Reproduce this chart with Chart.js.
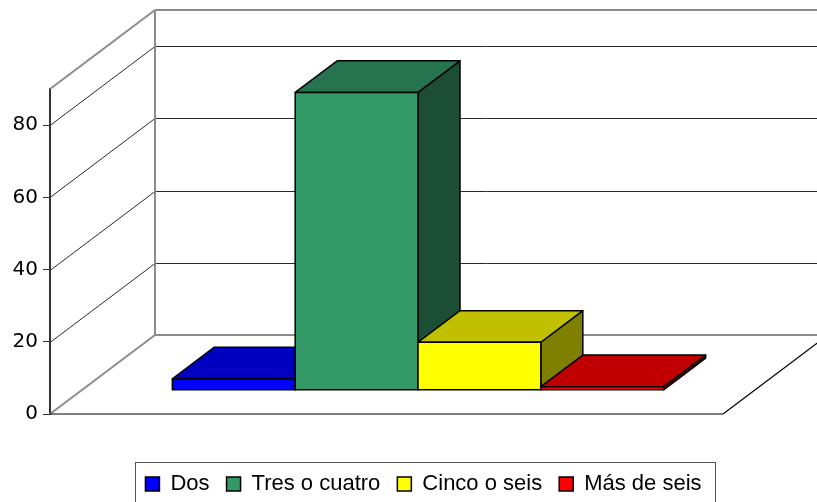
<!DOCTYPE html>
<html>
<head>
<meta charset="utf-8">
<script src="https://cdn.jsdelivr.net/npm/chart.js@4.4.1/dist/chart.umd.min.js"></script>
<style>
  body { margin: 0; background: #fff; }
  #wrap { width: 817px; height: 502px; }
</style>
</head>
<body>
<div id="wrap"><canvas id="chart"></canvas></div>
<script>
// Data: one group of bars, one series per answer
const seriesNames = ['Dos', 'Tres o cuatro', 'Cinco o seis', 'Más de seis'];
const seriesValues = [3.2, 82.5, 13.3, 1.0];
const yTicks = [0, 20, 40, 60, 80];
const yMax = 90;

// Face colours: front / top / side
const frontColors = ['#0000ff', '#339966', '#ffff00', '#ff0000'];
const topColors = ['#0000c0', '#267350', '#c0c000', '#c00000'];
const sideColors = ['#000080', '#1c4d35', '#808000', '#800000'];

// 3D box depth (pixels) and where the bars sit inside it
const DEPTH_X = 105;
const DEPTH_Y = -79;
const BAR_FRONT = 0.3;
const BAR_BACK = 0.7;

// legend sits right of centre in the original
const LEGEND_SHIFT_X = 62;
const LEGEND_SHIFT_Y = 3;

function line(ctx, x1, y1, x2, y2) {
    ctx.beginPath();
    ctx.moveTo(x1, y1);
    ctx.lineTo(x2, y2);
    ctx.stroke();
}

function poly(ctx, pts, fill) {
    ctx.beginPath();
    ctx.moveTo(pts[0][0], pts[0][1]);
    for (let i = 1; i < pts.length; i++) ctx.lineTo(pts[i][0], pts[i][1]);
    ctx.closePath();
    ctx.fillStyle = fill;
    ctx.fill();
    ctx.stroke();
}

// Draws walls, grid and the bars as boxes, replacing the flat bars
const box3d = {
    id: 'box3d',
    afterLayout(chart) {
        const lg = chart.legend;
        lg.left += LEGEND_SHIFT_X;
        lg.right += LEGEND_SHIFT_X;
        lg.top += LEGEND_SHIFT_Y;
        lg.bottom += LEGEND_SHIFT_Y;
    },
    beforeDatasetsDraw(chart) {
        const ctx = chart.ctx;
        const { left, right, top, bottom } = chart.chartArea;
        const yScale = chart.scales.y;
        ctx.save();

        // grid on left wall and back wall
        ctx.lineWidth = 1;
        ctx.strokeStyle = '#2a2a2a';
        yTicks.forEach(v => {
            if (v === 0) return;
            const py = Math.round(yScale.getPixelForValue(v)) + 0.5;
            line(ctx, left, py, left + DEPTH_X, py + DEPTH_Y);
            line(ctx, left + DEPTH_X, py + DEPTH_Y, right + DEPTH_X, py + DEPTH_Y);
        });

        // wall edges
        ctx.strokeStyle = '#8c8c8c';
        ctx.lineWidth = 2;
        line(ctx, left, top, left + DEPTH_X, top + DEPTH_Y);
        line(ctx, left + DEPTH_X, top + DEPTH_Y, right + DEPTH_X, top + DEPTH_Y);
        line(ctx, left + DEPTH_X, top + DEPTH_Y, left + DEPTH_X, bottom + DEPTH_Y);
        line(ctx, left + DEPTH_X, bottom + DEPTH_Y, right + DEPTH_X, bottom + DEPTH_Y);
        line(ctx, left, bottom, left + DEPTH_X, bottom + DEPTH_Y);

        // floor front and right edges
        ctx.strokeStyle = '#000';
        ctx.lineWidth = 1.2;
        line(ctx, left, bottom, right, bottom);
        line(ctx, right, bottom, right + DEPTH_X, bottom + DEPTH_Y);

        // bars, left to right so nearer faces overlap
        ctx.lineWidth = 1.5;
        ctx.strokeStyle = '#000';
        ctx.lineJoin = 'round';
        const ox = BAR_FRONT * DEPTH_X, oy = BAR_FRONT * DEPTH_Y;
        const dx = (BAR_BACK - BAR_FRONT) * DEPTH_X, dy = (BAR_BACK - BAR_FRONT) * DEPTH_Y;
        chart.data.datasets.forEach((ds, i) => {
            const meta = chart.getDatasetMeta(i);
            meta.data.forEach(bar => {
                const p = bar.getProps(['x', 'y', 'base', 'width'], true);
                const l = p.x - p.width / 2 + ox;
                const r = p.x + p.width / 2 + ox;
                const t = p.y + oy;
                const b = p.base + oy;
                poly(ctx, [[r, t], [r + dx, t + dy], [r + dx, b + dy], [r, b]], sideColors[i]);
                poly(ctx, [[l, t], [l + dx, t + dy], [r + dx, t + dy], [r, t]], topColors[i]);
                poly(ctx, [[l, t], [r, t], [r, b], [l, b]], frontColors[i]);
            });
        });

        ctx.restore();
        return false;
    },
    afterDraw(chart) {
        // frame around the legend
        const boxes = chart.legend.legendHitBoxes;
        if (!boxes || !boxes.length) return;
        const first = boxes[0], last = boxes[boxes.length - 1];
        const ctx = chart.ctx;
        ctx.save();
        ctx.strokeStyle = '#555';
        ctx.lineWidth = 1;
        const x1 = Math.round(first.left - 10) + 0.5;
        const x2 = Math.round(last.left + last.width + 13) + 0.5;
        const y1 = Math.round(first.top - 11) + 0.5;
        ctx.strokeRect(x1, y1, x2 - x1, chart.height + 5 - y1);
        ctx.restore();
    }
};

const datasets = seriesNames.map((name, i) => ({
    label: name,
    data: [seriesValues[i]],
    backgroundColor: frontColors[i],
    borderColor: '#000',
    borderWidth: 1.5
}));

new Chart(document.getElementById('chart'), {
    type: 'bar',
    data: { labels: [''], datasets },
    plugins: [box3d],
    options: {
        responsive: true,
        maintainAspectRatio: false,
        animation: false,
        categoryPercentage: 0.73,
        barPercentage: 1,
        layout: { padding: { left: 0, right: 94, top: 89, bottom: 0 } },
        plugins: {
            legend: {
                position: 'bottom',
                labels: {
                    color: '#000',
                    font: { family: 'Liberation Sans', size: 22 },
                    boxWidth: 14,
                    boxHeight: 14,
                    padding: 17
                }
            },
            tooltip: { enabled: false }
        },
        scales: {
            x: {
                ticks: { display: false },
                grid: { display: false },
                border: { display: false },
                afterFit: scale => { scale.height = 39; }
            },
            y: {
                min: 0,
                max: yMax,
                ticks: {
                    stepSize: 20,
                    color: '#000',
                    padding: 5,
                    font: { family: 'DejaVu Sans', size: 20 }
                },
                afterBuildTicks: scale => {
                    scale.ticks = yTicks.map(v => ({ value: v }));
                },
                grid: {
                    drawOnChartArea: false,
                    drawTicks: true,
                    tickLength: 7,
                    color: '#333'
                },
                border: { display: true, color: '#333', width: 2 },
                afterFit: scale => { scale.width = 50; }
            }
        }
    }
});
</script>
</body>
</html>
